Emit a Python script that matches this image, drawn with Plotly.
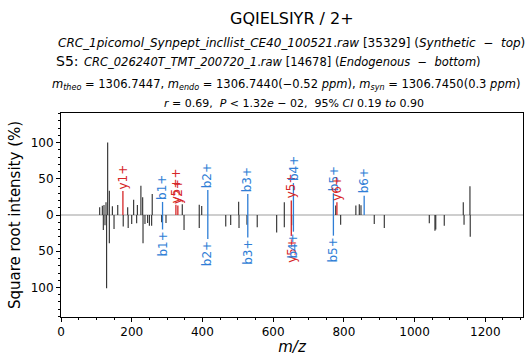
import plotly.graph_objects as go

W, H = 525, 356
ML, MR, MT, MB = 61, 2, 113, 39

# ---------------- data ----------------
syn_mz = [109.4, 116.9, 121.6, 127.3, 132.0, 136.7, 145.3, 160.5, 188.6, 205.5,
          216.0, 226.0, 231.0, 258.0, 343.0, 391.0, 398.0, 502.5, 631.6, 777.0,
          834.0, 843.7, 848.5, 1137.8, 1156.7]
syn_int = [10.6, 12.9, 13.8, 17.5, 100.0, 33.6, 12.0, 13.8, 10.6, 21.0,
           13.8, 40.5, 24.4, 29.0, 15.0, 14.3, 12.4, 18.4, 17.5, 13.0,
           13.0, 15.0, 13.3, 17.5, 39.5]

endo_mz = [119.7, 124.4, 129.0, 136.7, 150.0, 176.0, 190.0, 200.0, 214.0, 232.0,
           237.5, 245.0, 250.0, 256.4, 284.7, 297.0, 348.0, 391.0, 466.0, 480.0,
           503.5, 526.0, 555.0, 610.0, 631.6, 652.4, 791.0, 886.0, 914.4, 1041.7,
           1057.7, 1060.0, 1084.0, 1140.0, 1157.5]
endo_int = [20.7, 14.0, 101.0, 39.0, 19.3, 16.0, 18.0, 12.4, 11.5, 39.0,
            12.4, 11.0, 14.7, 14.7, 10.0, 11.0, 20.7, 18.0, 16.0, 13.8,
            18.0, 13.3, 17.0, 24.0, 17.0, 14.3, 13.3, 12.4, 18.0, 11.5,
            21.6, 20.0, 14.7, 13.3, 30.0]

ion_labels = ["y1+", "b1+", "y5++", "y2+", "b2+", "b3+", "y5+", "b4+", "b5+", "y6+", "b6+"]
ion_mz = [175.12, 287.19, 325.0, 330.5, 415.25, 528.33, 651.38, 657.38, 770.46, 780.43, 857.49]
ion_syn = [33.0, 18.0, 14.0, 13.0, 34.5, 29.0, 20.0, 44.0, 30.0, 17.5, 26.7]
ion_endo = [0.0, 20.0, 0.0, 0.0, 33.0, 31.0, 29.0, 23.0, 28.5, 0.0, 0.0]
ion_type = ["y", "b", "y", "y", "b", "b", "y", "b", "b", "y", "b"]

x_ticks = [0, 200, 400, 600, 800, 1000, 1200]
y_ticks = [-100, -50, 0, 50, 100]
y_ticktext = ["100", "50", "0", "50", "100"]

XMAX = 1306.7447
YLIM = 140.7

COL = {"b": "#2f7ed6", "y": "#d62728"}
UNK = "#2b2b2b"
FONT = "DejaVu Sans"


def stems(mz, inten, sign):
    xs, ys = [], []
    for m, h in zip(mz, inten):
        if h <= 0:
            continue
        xs += [m, m, None]
        ys += [0, sign * h, None]
    return xs, ys


fig = go.Figure()

# unmatched peaks
for mz, it, s in [(syn_mz, syn_int, 1), (endo_mz, endo_int, -1)]:
    xs, ys = stems(mz, it, s)
    fig.add_trace(go.Scatter(x=xs, y=ys, mode="lines",
                             line=dict(color=UNK, width=1.1),
                             hoverinfo="skip", showlegend=False))

# matched peaks
for t in ["b", "y"]:
    mz = [m for m, tt in zip(ion_mz, ion_type) if tt == t]
    sy = [h for h, tt in zip(ion_syn, ion_type) if tt == t]
    en = [h for h, tt in zip(ion_endo, ion_type) if tt == t]
    x1, y1 = stems(mz, sy, 1)
    x2, y2 = stems(mz, en, -1)
    fig.add_trace(go.Scatter(x=x1 + x2, y=y1 + y2, mode="lines",
                             line=dict(color=COL[t], width=1.3),
                             hoverinfo="skip", showlegend=False))

fig.add_hline(y=0, line=dict(color="#9e9e9e", width=1.2), layer="below")

annotations = []
for lab, m, hs, he, t in zip(ion_labels, ion_mz, ion_syn, ion_endo, ion_type):
    if hs > 0:
        annotations.append(dict(x=m, y=hs, xref="x", yref="y", text=lab,
                                showarrow=False, textangle=-90,
                                xanchor="center", yanchor="bottom",
                                font=dict(family=FONT, size=12, color=COL[t])))
    if he > 0:
        annotations.append(dict(x=m, y=-he, xref="x", yref="y", text=lab,
                                showarrow=False, textangle=-90,
                                xanchor="center", yanchor="top",
                                font=dict(family=FONT, size=12, color=COL[t])))

PW = W - ML - MR
PH = H - MT - MB


def px(x):
    return (x - ML) / PW


def py(y):
    return (H - MB - y) / PH


header = [
    (292, 18, "center", 16, "GQIELSIYR / 2+"),
    (291, 43, "center", 12,
     "<i>CRC_1picomol_Synpept_incllist_CE40_100521</i>.<i>raw</i> [35329] (<i>Synthetic</i>  −  <i>top</i>)"),
    (54, 61, "left", 14, "S5:"),
    (82, 62, "left", 11.5,
     "<i>CRC_026240T_TMT_200720_1</i>.<i>raw</i> [14678] (<i>Endogenous</i>  −  <i>bottom</i>)"),
    (50, 84, "left", 11.5,
     "<i>m</i><sub><i>theo</i></sub> = 1306.7447, <i>m</i><sub><i>endo</i></sub> = 1306.7440(−0.52 <i>ppm</i>), <i>m</i><sub><i>syn</i></sub> = 1306.7450(0.3 <i>ppm</i>)"),
    (294, 104, "center", 11,
     "<i>r</i> = 0.69,  <i>P</i> &lt; 1.32<i>e</i> − 02,  95% <i>CI</i> 0.19 <i>to</i> 0.90"),
]
for x, y, anc, size, txt in header:
    annotations.append(dict(x=px(x), y=py(y), xref="paper", yref="paper",
                            text=txt, showarrow=False, xanchor=anc, yanchor="middle",
                            font=dict(family=FONT, size=size, color="black")))

fig.update_layout(
    width=W, height=H,
    margin=dict(l=ML, r=MR, t=MT, b=MB),
    paper_bgcolor="white", plot_bgcolor="white",
    font=dict(family=FONT, color="black"),
    annotations=annotations,
    showlegend=False,
)
fig.update_xaxes(
    range=[0, XMAX], tickvals=x_ticks, ticks="outside", ticklen=4, tickwidth=1,
    tickcolor="black", showline=True, linecolor="black", linewidth=1, mirror=True,
    showgrid=False, zeroline=False, tickfont=dict(size=12, family=FONT),
    minor=dict(dtick=50, tick0=0, ticks="outside", ticklen=2, tickcolor="black", showgrid=False),
    title=dict(text="<i>m/z</i>", font=dict(size=15, family=FONT), standoff=4),
)
fig.update_yaxes(
    range=[-YLIM, YLIM], tickvals=y_ticks, ticktext=y_ticktext, ticks="outside",
    ticklen=4, tickwidth=1, tickcolor="black", showline=True, linecolor="black",
    linewidth=1, mirror=True, showgrid=False, zeroline=False,
    tickfont=dict(size=12, family=FONT),
    minor=dict(dtick=10, tick0=0, ticks="outside", ticklen=2, tickcolor="black", showgrid=False),
    title=dict(text="Square root intensity (%)", font=dict(size=15, family=FONT), standoff=6),
)

fig.write_html("out.html")
